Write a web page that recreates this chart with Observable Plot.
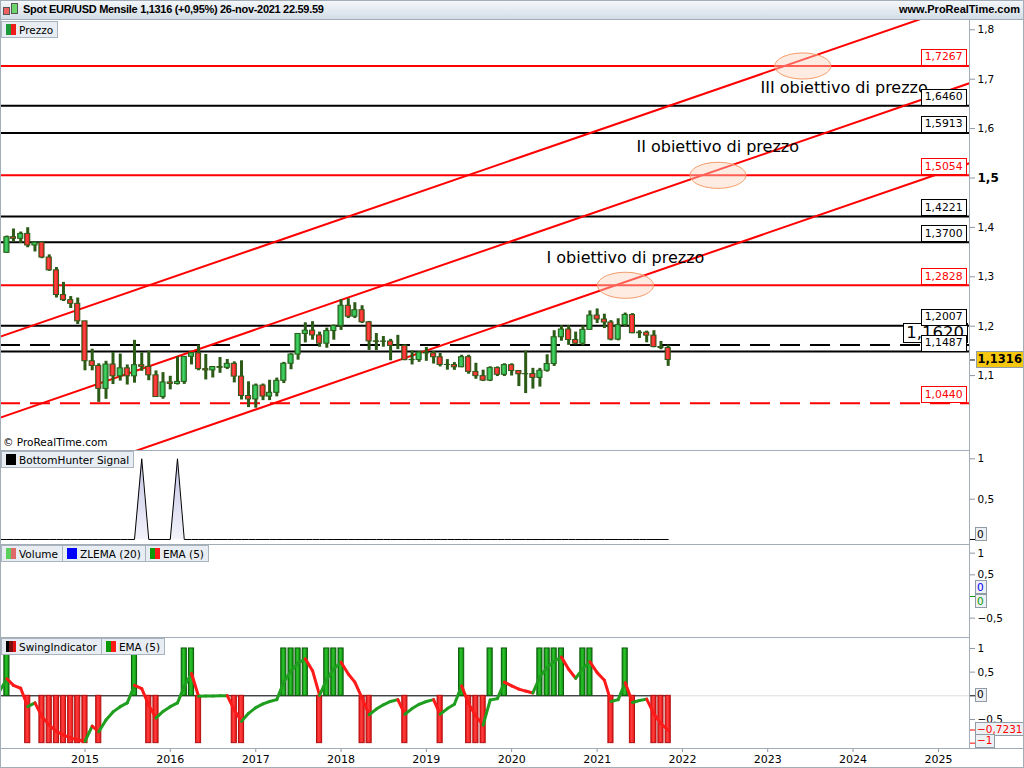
<!DOCTYPE html>
<html>
<head>
<meta charset="utf-8">
<script src="https://cdn.jsdelivr.net/npm/d3@7"></script>
<script src="https://cdn.jsdelivr.net/npm/@observablehq/plot@0.6"></script>
<style>
  body { margin: 0; background: #fff; }
  #chart { position: relative; width: 1024px; height: 768px; overflow: hidden; background: #fff;
           font-family: "DejaVu Sans", sans-serif; color: #000; }
  #topbar { position: absolute; left: 0; top: 0; width: 1024px; height: 19px;
            background: linear-gradient(#f5f8fb, #d3dde7); border-bottom: 1px solid #a3adb7; }
  #title { position: absolute; left: 23px; top: 3px; font: bold 11px "Liberation Sans", sans-serif; letter-spacing: -0.3px; white-space: nowrap; }
  #site { position: absolute; right: 4px; top: 3px; font: bold 11px "Liberation Sans", sans-serif; white-space: nowrap; }
  .tbicon { position: absolute; top: 4px; width: 5px; border: 1px solid #555; }
  .panel { position: absolute; left: 0; }
  .hline { position: absolute; left: 0; width: 969px; height: 1px; background: #a3adb7; }
  .vline { position: absolute; width: 1px; background: #a3adb7; }
  .leg { position: absolute; left: 1px; display: flex; height: 16px; font-size: 10.5px; }
  .leg span { display: flex; align-items: center; gap: 3px; padding: 0 4px 0 4px; height: 15px;
              background: #e7edf2; border: 1px solid #a9b4be; margin-right: -1px; white-space: nowrap; }
  .leg i { display: inline-block; width: 10px; height: 11px; }
  #copy { position: absolute; left: 3px; top: 436px; font-size: 10.5px; }
  #outline { position: absolute; left: 0; top: 0; width: 1022px; height: 766px; border: 1px solid #a3adb7; pointer-events: none; }
</style>
</head>
<body>
<div id="chart">
  <div id="topbar">
    <span class="tbicon" style="left:3px;top:7px;height:6px;background:#f06060"></span>
    <span class="tbicon" style="left:11px;top:3px;height:9px;background:#6bd66b"></span>
    <span id="title"></span>
    <span id="site">www.ProRealTime.com</span>
  </div>
  <div id="p-main" class="panel" style="top:20px"></div>
  <div id="p-bh" class="panel" style="top:450px"></div>
  <div id="p-vol" class="panel" style="top:544px"></div>
  <div id="p-swing" class="panel" style="top:637px"></div>

  <div class="hline" style="top:450px"></div>
  <div class="hline" style="top:544px"></div>
  <div class="hline" style="top:637px"></div>
  <div class="hline" style="top:748px;width:1024px"></div>
  <div class="vline" style="left:969px;top:20px;height:728px"></div>

  <div class="leg" style="top:21px"><span><i style="background:linear-gradient(90deg,#1e9a3a 50%,#f01a1a 50%)"></i>Prezzo</span></div>
  <div id="copy">© ProRealTime.com</div>
  <div class="leg" style="top:451px"><span><i style="background:#000"></i>BottomHunter Signal</span></div>
  <div class="leg" style="top:545px">
    <span><i style="background:linear-gradient(90deg,#5ccf5c 50%,#e06a6a 50%)"></i>Volume</span>
    <span><i style="background:#0000ff"></i>ZLEMA (20)</span>
    <span><i style="background:linear-gradient(90deg,#0a9a0a 50%,#ff1a1a 50%)"></i>EMA (5)</span>
  </div>
  <div class="leg" style="top:638px">
    <span><i style="background:linear-gradient(90deg,#000 33%,#7a1010 33%,#7a1010 66%,#e01010 66%)"></i>SwingIndicator</span>
    <span><i style="background:linear-gradient(90deg,#0a9a0a 50%,#ff1a1a 50%)"></i>EMA (5)</span>
  </div>
  <div id="outline"></div>
</div>

<script>
// ---------------- Monthly EUR/USD candles, Feb 2014 – Nov 2021 ----------------
const priceFirstMonth = [2014, 1];
const open = [
  1.3486,1.3802,1.3769,1.3868,1.3633,1.3692,1.3390,1.3131,1.2631,1.2526,1.2453,
  1.2098,1.1291,1.1196,1.0731,1.1224,1.0986,1.1147,1.0985,1.1211,1.1177,1.1005,1.0566,
  1.0862,1.0831,1.0873,1.1380,1.1452,1.1131,1.1105,1.1174,1.1157,1.1238,1.0980,1.0587,
  1.0517,1.0798,1.0576,1.0652,1.0895,1.1240,1.1426,1.1843,1.1910,1.1813,1.1646,1.1902,
  1.2005,1.2414,1.2193,1.2324,1.2079,1.1693,1.1684,1.1690,1.1601,1.1604,1.1313,1.1317,
  1.1466,1.1448,1.1372,1.1216,1.1215,1.1169,1.1373,1.1075,1.0989,1.0899,1.1152,1.1017,
  1.1212,1.1093,1.1027,1.1031,1.0954,1.1098,1.1234,1.1776,1.1933,1.1720,1.1647,1.1926,
  1.2216,1.2136,1.2075,1.1729,1.2020,1.2228,1.1858,1.1869,1.1809,1.1578,1.1558
];
const high = [
  1.3825,1.3967,1.3906,1.3993,1.3700,1.3700,1.3444,1.3188,1.2887,1.2600,1.2570,
  1.2100,1.1534,1.1240,1.1290,1.1467,1.1436,1.1216,1.1714,1.1460,1.1495,1.1095,1.1060,
  1.0986,1.1376,1.1383,1.1464,1.1616,1.1428,1.1186,1.1366,1.1327,1.1278,1.1300,1.0875,
  1.0829,1.0829,1.0906,1.0950,1.1268,1.1445,1.1846,1.2070,1.2092,1.1880,1.1961,1.2023,
  1.2537,1.2555,1.2476,1.2414,1.2097,1.1852,1.1791,1.1734,1.1815,1.1625,1.1500,1.1486,
  1.1570,1.1489,1.1448,1.1324,1.1264,1.1412,1.1412,1.1250,1.1110,1.1179,1.1176,1.1240,
  1.1239,1.1096,1.1495,1.1147,1.1146,1.1422,1.1909,1.2011,1.2011,1.1881,1.2004,1.2310,
  1.2349,1.2243,1.2113,1.2150,1.2266,1.2254,1.1909,1.1900,1.1909,1.1692,1.1616
];
const low = [
  1.3475,1.3705,1.3673,1.3588,1.3503,1.3366,1.3110,1.2571,1.2500,1.2358,1.2035,
  1.1098,1.1097,1.0458,1.0520,1.0819,1.0889,1.0809,1.0847,1.1087,1.0896,1.0558,1.0522,
  1.0711,1.0810,1.0822,1.1216,1.1098,1.0912,1.0952,1.1046,1.1122,1.0852,1.0506,1.0352,
  1.0340,1.0493,1.0494,1.0570,1.0839,1.1119,1.1312,1.1662,1.1717,1.1574,1.1554,1.1717,
  1.1915,1.2155,1.2155,1.2055,1.1510,1.1508,1.1575,1.1301,1.1526,1.1302,1.1216,1.1269,
  1.1289,1.1234,1.1176,1.1110,1.1107,1.1160,1.1028,1.0926,1.0879,1.0879,1.0981,1.0981,
  1.0992,1.0778,1.0636,1.0727,1.0767,1.1070,1.1186,1.1696,1.1612,1.1622,1.1603,1.1925,
  1.2055,1.1952,1.1704,1.1704,1.1986,1.1847,1.1752,1.1664,1.1563,1.1524,1.1186
];
const close = [
  1.3802,1.3769,1.3868,1.3633,1.3692,1.3390,1.3131,1.2631,1.2526,1.2453,1.2098,
  1.1291,1.1196,1.0731,1.1224,1.0986,1.1147,1.0985,1.1211,1.1177,1.1005,1.0566,1.0862,
  1.0831,1.0873,1.1380,1.1452,1.1131,1.1105,1.1174,1.1157,1.1238,1.0980,1.0587,1.0517,
  1.0798,1.0576,1.0652,1.0895,1.1240,1.1426,1.1843,1.1910,1.1813,1.1646,1.1902,1.2005,
  1.2414,1.2193,1.2324,1.2079,1.1693,1.1684,1.1690,1.1601,1.1604,1.1313,1.1317,1.1466,
  1.1448,1.1372,1.1216,1.1215,1.1169,1.1373,1.1075,1.0989,1.0899,1.1152,1.1017,1.1212,
  1.1093,1.1027,1.1031,1.0954,1.1098,1.1234,1.1776,1.1933,1.1720,1.1647,1.1926,1.2216,
  1.2136,1.2075,1.1729,1.2020,1.2228,1.1858,1.1869,1.1809,1.1578,1.1558,1.1316
];
const dailyChange = "+0,95%";
const quoteTime = "26-nov-2021 22.59.59";

// ---------------- Horizontal levels ----------------
const levelValues = [1.7267, 1.6460, 1.5913, 1.5054, 1.4221, 1.3700, 1.2828, 1.2007, 1.1620, 1.1487, 1.0440];
const levelKinds  = ["target","level","level","target","level","level","target","level","pivot","level","floor"];

// ---------------- Rising channel (three parallel trend lines) ----------------
const channelDates  = ["2014-01-01", "2025-06-01"];
const channelUpper  = [1.1785, 1.8589];
const channelMiddle = [1.0146, 1.6950];
const channelLower  = [0.8526, 1.5330];

// ---------------- Price objectives ----------------
const goalNames       = ["I obiettivo di prezzo", "II obiettivo di prezzo", "III obiettivo di prezzo"];
const goalDates       = ["2021-05-02", "2022-06-02", "2023-05-31"];
const goalPrices      = [1.2828, 1.5054, 1.7267];
const goalLabelDates  = ["2020-05-29", "2021-06-18", "2022-12-01"];
const goalLabelPrices = [1.339, 1.5638, 1.6832];

// ---------------- Indicators, Jan 2014 – Nov 2021 ----------------
const indicatorFirstMonth = [2014, 0];
const bottomHunter = [
  0,0,0,0,0,0,0,0,0,0,0,0,
  0,0,0,0,0,0,0,0,1,0,0,0,
  0,1,0,0,0,0,0,0,0,0,0,0,
  0,0,0,0,0,0,0,0,0,0,0,0,
  0,0,0,0,0,0,0,0,0,0,0,0,
  0,0,0,0,0,0,0,0,0,0,0,0,
  0,0,0,0,0,0,0,0,0,0,0,0,
  0,0,0,0,0,0,0,0,0,0,0
];
const swing = [
  0, 1, 0, 0,-1, 0,-1,-1,-1,-1,-1,-1,
 -1, 0,-1, 0, 0, 0, 0, 1, 0,-1,-1, 0,
  0, 0, 1, 1,-1, 0, 0, 0, 0,-1,-1, 0,
  0, 0, 0, 0, 1, 1, 1, 1, 0,-1, 1, 1,
  1, 0, 0,-1,-1, 0, 0, 0, 0,-1, 0, 0,
  0, 0,-1, 0, 0, 1,-1,-1,-1, 1, 0, 1,
  0, 0, 0, 0, 1, 1, 1, 1, 0, 0, 1, 1,
  0, 0,-1, 0, 1,-1, 0, 0,-1,-1,-1
];
const swingEma = [
  0.10, 0.36, 0.22, 0.16,-0.23,-0.15,-0.44,-0.62,-0.75,-0.83,-0.89,-0.93,
 -0.96,-0.64,-0.76,-0.51,-0.34,-0.23,-0.15, 0.22, 0.15,-0.20,-0.47,-0.33,
 -0.23,-0.15, 0.20, 0.47,-0.01,-0.006,-0.003, 0.00, 0.003,-0.30,-0.54,-0.37,
 -0.25,-0.17,-0.12,-0.08, 0.29, 0.53, 0.69, 0.78, 0.53, 0.01, 0.35, 0.57,
  0.71, 0.46, 0.29,-0.05,-0.40,-0.28,-0.19,-0.12,-0.08,-0.39,-0.27,-0.18,
 -0.12,-0.08,-0.39,-0.27,-0.18, 0.21,-0.17,-0.43,-0.62,-0.09,-0.06, 0.29,
  0.21, 0.14, 0.10, 0.06, 0.40, 0.60, 0.73, 0.82, 0.56, 0.37, 0.58, 0.72,
  0.49, 0.33,-0.12,-0.08, 0.28,-0.14,-0.10,-0.07,-0.38,-0.59,-0.7231
];
const volumeZlemaLast = 0;
const volumeEmaLast = 0;

// ---------------- Helpers ----------------
const monthsFrom = ([y, m], n) => d3.range(n).map(i => new Date(Date.UTC(y, m + i, 1)));
const itNum = d => String(d).replace(".", ",").replace("-", "\u2212");
const fmt4 = v => v.toFixed(4).replace(".", ",").replace("-", "\u2212");

const priceDates = monthsFrom(priceFirstMonth, close.length);
const candles = priceDates.map((date, i) => ({date, open: open[i], high: high[i], low: low[i], close: close[i]}));
const indDates = monthsFrom(indicatorFirstMonth, swing.length);
const lastClose = close[close.length - 1];

document.getElementById("title").textContent =
  `Spot EUR/USD Mensile ${fmt4(lastClose)} (${dailyChange}) ${quoteTime}`;

const xScale = {type: "utc", domain: [new Date("2014-01-04T12:00Z"), new Date("2025-05-13T12:00Z")], axis: null};
const common = {
  width: 1024, marginLeft: 0, marginRight: 55, marginTop: 0, marginBottom: 0,
  style: {fontFamily: "'DejaVu Sans', sans-serif", fontSize: "10.5px", background: "transparent", overflow: "visible", color: "#000"}
};
const halfBar = d => [d3.utcDay.offset(d, -11), d3.utcDay.offset(d, 11)];

function rightAxis(ticks, extra = {}) {
  return Plot.axisY({ticks, anchor: "right", tickSize: 5, tickPadding: 3, tickFormat: itNum,
                     stroke: "#8c98a4", fill: "#000", label: null, ...extra});
}
function valueTick(v, color) {
  return Plot.axisY({ticks: [v], anchor: "right", tickSize: 5, tickFormat: () => "", stroke: color, label: null});
}
function gradientDefs(list) {
  return () => {
    const defs = d3.create("svg:defs");
    for (const g of list) {
      const lg = defs.append("linearGradient").attr("id", g.id)
        .attr("x1", 0).attr("y1", 0).attr("x2", g.vertical ? 0 : 1).attr("y2", g.vertical ? 1 : 0);
      g.stops.forEach(([o, c]) => lg.append("stop").attr("offset", o).attr("stop-color", c));
    }
    return defs.node();
  };
}

// Value labels in a box, placed on the plot's y scale at the right edge of the frame.
// A box is drawn behind each text once the chart is in the document.
function boxedText(items, o) {
  return (index, scales, values, dims) => {
    const g = d3.create("svg:g").attr("class", "boxed " + o.box)
      .attr("font-size", o.fontSize || 10.5)
      .attr("font-weight", o.fontWeight || "normal")
      .attr("text-anchor", o.anchor || "start");
    const x = dims.width - dims.marginRight + o.dx;
    for (const it of items) {
      g.append("text")
        .attr("x", x)
        .attr("y", scales.y(it.value) + (o.dy || 0))
        .attr("dominant-baseline", o.baseline || "middle")
        .attr("fill", it.color)
        .text(it.text);
    }
    return g.node();
  };
}

// Ellipse symbol for the objective markers
const ellipseSymbol = {
  draw(ctx, size) {
    const r = Math.sqrt(size / Math.PI), rx = r * 2.15, ry = r, k = 0.5523;
    ctx.moveTo(rx, 0);
    ctx.bezierCurveTo(rx, ry * k, rx * k, ry, 0, ry);
    ctx.bezierCurveTo(-rx * k, ry, -rx, ry * k, -rx, 0);
    ctx.bezierCurveTo(-rx, -ry * k, -rx * k, -ry, 0, -ry);
    ctx.bezierCurveTo(rx * k, -ry, rx, -ry * k, rx, 0);
    ctx.closePath();
  }
};

// ---------------- Price panel ----------------
const levels = levelValues.map((value, i) => ({value, kind: levelKinds[i]}));
const isRed = d => d.kind === "target" || d.kind === "floor";
const isDashed = d => d.kind === "pivot" || d.kind === "floor";
const levelLabel = d => ({value: d.value, text: fmt4(d.value), color: isRed(d) ? "#ff0000" : "#000000"});
const channel = [["upper", channelUpper], ["middle", channelMiddle], ["lower", channelLower]]
  .flatMap(([name, vals]) => vals.map((price, i) => ({name, date: new Date(channelDates[i]), price})));
const goals = goalNames.map((name, i) => ({
  name, date: new Date(goalDates[i]), price: goalPrices[i],
  labelDate: new Date(goalLabelDates[i]), labelPrice: goalLabelPrices[i]
}));
const upCandles = candles.filter(d => d.close >= d.open);
const downCandles = candles.filter(d => d.close < d.open);
const candleColor = "#2b5b17";

const mainPlot = Plot.plot({
  ...common, height: 430,
  x: xScale,
  y: {domain: [0.9484, 1.8188], axis: null},
  marks: [
    gradientDefs([
      {id: "cUp", stops: [[0, "#1c9a3a"], [0.45, "#45d466"], [1, "#1c9a3a"]]},
      {id: "cDown", stops: [[0, "#e01010"], [0.45, "#ff4a4a"], [1, "#e01010"]]}
    ]),
    Plot.ruleY(levels.filter(d => !isDashed(d)), {y: "value", stroke: d => isRed(d) ? "#ff0000" : "#000000", strokeWidth: 2}),
    Plot.ruleY(levels.filter(isDashed), {y: "value", stroke: d => isRed(d) ? "#ff0000" : "#000000", strokeWidth: 2, strokeDasharray: "20,10"}),
    Plot.line(channel, {x: "date", y: "price", z: "name", stroke: "#ff0000", strokeWidth: 2, clip: true}),
    Plot.dot(goals, {x: "date", y: "price", r: 13, symbol: ellipseSymbol, fill: "#fcd2bd", fillOpacity: 0.45, stroke: "#f39a66", strokeWidth: 1}),
    Plot.text(goals, {x: "labelDate", y: "labelPrice", text: "name", textAnchor: "start", fontSize: 16, fill: "#000"}),
    Plot.ruleX(candles, {x: "date", y1: "low", y2: "high", stroke: candleColor, strokeWidth: 3, clip: true}),
    Plot.rect(upCandles, {x1: d => halfBar(d.date)[0], x2: d => halfBar(d.date)[1], y1: "open", y2: "close", fill: "url(#cUp)", stroke: candleColor, strokeWidth: 1, clip: true}),
    Plot.rect(downCandles, {x1: d => halfBar(d.date)[0], x2: d => halfBar(d.date)[1], y1: "open", y2: "close", fill: "url(#cDown)", stroke: candleColor, strokeWidth: 1, clip: true}),
    boxedText(levels.filter(d => d.kind === "pivot").map(levelLabel), {box: "box-pivot", anchor: "end", dx: -5, dy: -6, baseline: "auto", fontSize: 16.5}),
    boxedText(levels.filter(d => d.kind !== "pivot" && !isRed(d)).map(levelLabel), {box: "box-black", anchor: "end", dx: -6.5, dy: -5, baseline: "auto", fontSize: 10.8}),
    boxedText(levels.filter(isRed).map(levelLabel), {box: "box-red", anchor: "end", dx: -6.5, dy: -5, baseline: "auto", fontSize: 10.8}),
    rightAxis([1.1, 1.2, 1.3, 1.4, 1.6, 1.7, 1.8]),
    rightAxis([1.5], {fontWeight: "bold", fontSize: 12}),
    valueTick(lastClose, "#000"),
    boxedText([{value: lastClose, text: fmt4(lastClose), color: "#000"}], {box: "box-last", dx: 8.5, fontWeight: "bold", fontSize: 11.5})
  ]
});
document.getElementById("p-main").append(mainPlot);

// ---------------- BottomHunter Signal panel ----------------
const bh = indDates.map((date, i) => ({date, value: bottomHunter[i]}));
const bhLast = bottomHunter[bottomHunter.length - 1];
const bhPlot = Plot.plot({
  ...common, height: 94,
  x: xScale,
  y: {domain: [-0.062, 1.103], axis: null},
  marks: [
    gradientDefs([{id: "bhFill", vertical: true, stops: [[0, "#c2c2e6"], [1, "#f3f3fb"]]}]),
    Plot.areaY(bh, {x: "date", y: "value", fill: "url(#bhFill)"}),
    Plot.lineY(bh, {x: "date", y: "value", stroke: "#000", strokeWidth: 1}),
    rightAxis([0.5, 1]),
    valueTick(0, "#000"),
    boxedText([{value: bhLast, text: itNum(bhLast), color: "#000"}], {box: "box-value", dx: 8, dy: -4})
  ]
});
document.getElementById("p-bh").append(bhPlot);

// ---------------- Volume panel ----------------
const volPlot = Plot.plot({
  ...common, height: 93,
  x: xScale,
  y: {domain: [-0.947, 1.2], axis: null},
  marks: [
    rightAxis([1, 0.5, -0.5]),
    valueTick(0, "#0a9a0a"),
    boxedText([{value: volumeZlemaLast, text: itNum(volumeZlemaLast), color: "#0000ff"}], {box: "box-value", dx: 8, dy: -8}),
    boxedText([{value: volumeEmaLast, text: itNum(volumeEmaLast), color: "#0a9a0a"}], {box: "box-value", dx: 8, dy: 6})
  ]
});
document.getElementById("p-vol").append(volPlot);

// ---------------- SwingIndicator panel (with the time axis) ----------------
const sw = indDates.map((date, i) => ({date, value: swing[i]}));
const emaSegs = d3.pairs(indDates.map((date, i) => ({date, v: swingEma[i]})))
  .map(([a, b]) => ({x1: a.date, y1: a.v, x2: b.date, y2: b.v, up: b.v > a.v}));
const zeroSpan = [{y: 0, x1: indDates[0], x2: indDates[indDates.length - 1]}];
const emaLast = swingEma[swingEma.length - 1];
const swingLast = swing[swing.length - 1];
const years = d3.range(2015, 2026).map(y => new Date(Date.UTC(y, 0, 1)));

const swingPlot = Plot.plot({
  ...common, height: 131, marginBottom: 20,
  x: xScale,
  y: {domain: [-1.113, 1.2315], axis: null},
  marks: [
    gradientDefs([
      {id: "sUp", stops: [[0, "#0b8a0b"], [0.45, "#2cc42c"], [1, "#0b8a0b"]]},
      {id: "sDown", stops: [[0, "#e81010"], [0.45, "#ff4040"], [1, "#e81010"]]}
    ]),
    Plot.ruleY([0], {stroke: "#d9dee3"}),
    Plot.ruleY(zeroSpan, {y: "y", x1: "x1", x2: "x2", stroke: "#000", strokeWidth: 1}),
    Plot.rectY(sw.filter(d => d.value > 0), {x1: d => halfBar(d.date)[0], x2: d => halfBar(d.date)[1], y: "value", fill: "url(#sUp)", stroke: "#0b5a0b", strokeWidth: 1, clip: true}),
    Plot.rectY(sw.filter(d => d.value < 0), {x1: d => halfBar(d.date)[0], x2: d => halfBar(d.date)[1], y: "value", fill: "url(#sDown)", stroke: "#b01010", strokeWidth: 1, clip: true}),
    Plot.link(emaSegs, {x1: "x1", y1: "y1", x2: "x2", y2: "y2", stroke: d => d.up ? "#1f9e1f" : "#ff1a1a", strokeWidth: 3, strokeLinecap: "round", clip: true}),
    rightAxis([1, 0.5, -0.5]),
    valueTick(0, "#000"),
    valueTick(emaLast, "#ff0000"),
    valueTick(swingLast, "#ff0000"),
    boxedText([{value: 0, text: itNum(0), color: "#000"}], {box: "box-value", dx: 8}),
    boxedText([{value: emaLast, text: fmt4(emaLast), color: "#ff0000"}], {box: "box-value", dx: 8}),
    boxedText([{value: swingLast, text: itNum(swingLast), color: "#ff0000"}], {box: "box-value", dx: 8, dy: -1.5}),
    Plot.axisX({ticks: years, tickFormat: "%Y", anchor: "bottom", tickSize: 4, tickPadding: 3, stroke: "#8c98a4", fill: "#000", label: null, fontSize: 11})
  ]
});
document.getElementById("p-swing").append(swingPlot);

// ---------------- Boxes behind the value labels ----------------
const boxStyles = {
  "box-pivot": {fill: "#ffffff", stroke: "#000000", px: 3, py: 0},
  "box-red":   {fill: "#ffffff", stroke: "#ff0000", px: 3.5, py: 1.5},
  "box-black": {fill: "#ffffff", stroke: "#000000", px: 3.5, py: 1.5},
  "box-last":  {fill: "#f6c70f", stroke: "#8f9ba6", px: 2, py: 1},
  "box-value": {fill: "#eef1f4", stroke: "#8f9ba6", px: 2, py: 0.5}
};
for (const [name, st] of Object.entries(boxStyles)) {
  document.querySelectorAll(`#chart g.${name} text`).forEach(t => {
    const b = t.getBBox();
    const r = document.createElementNS("http://www.w3.org/2000/svg", "rect");
    r.setAttribute("x", Math.round(b.x - st.px) + 0.5);
    r.setAttribute("y", Math.round(b.y - st.py) + 0.5);
    r.setAttribute("width", Math.round(b.width + 2 * st.px));
    r.setAttribute("height", Math.round(b.height + 2 * st.py));
    r.setAttribute("fill", st.fill);
    r.setAttribute("stroke", st.stroke);
    r.setAttribute("stroke-width", 1);
    t.parentNode.insertBefore(r, t);
  });
}
</script>
</body>
</html>
